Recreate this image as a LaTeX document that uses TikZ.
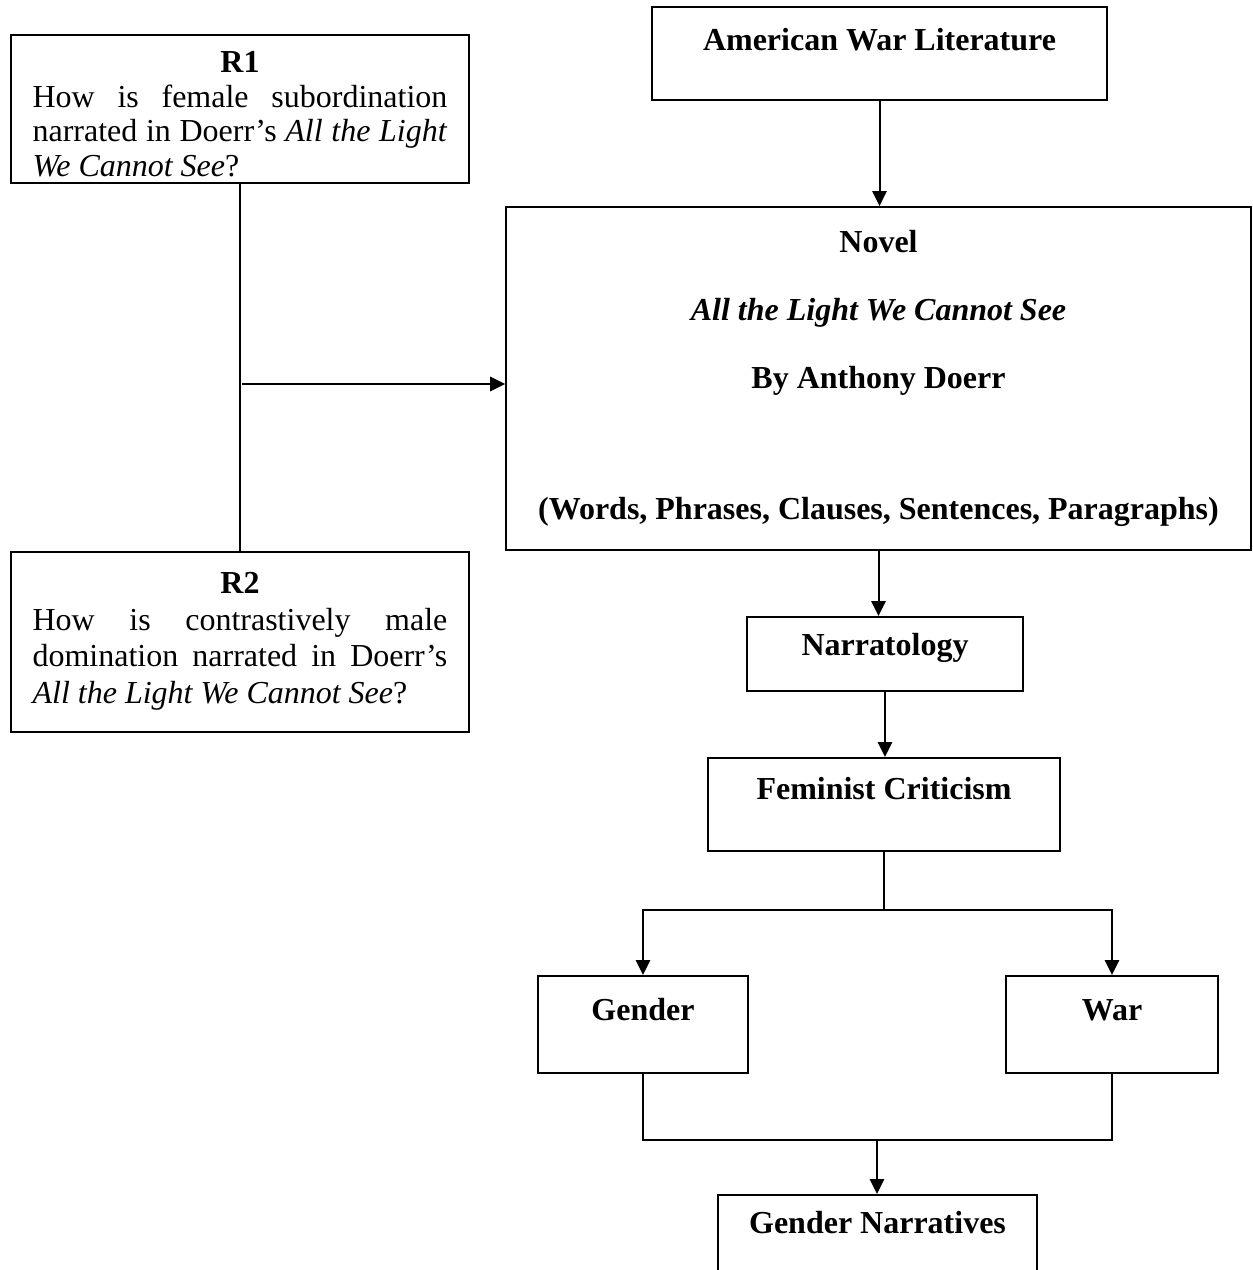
\documentclass[tikz,border=0pt]{standalone}
\usepackage{fontspec}
\setmainfont{Liberation Serif}
\usetikzlibrary{arrows.meta}

\tikzset{
  qbox/.style={draw, line width=0.8pt, inner sep=0pt, font=\fontsize{12.75}{14.5}\selectfont},
  box/.style={qbox, font=\fontsize{12.75}{14.5}\selectfont\bfseries},
  link/.style={line width=0.8pt},
  flow/.style={link, -{Triangle[length=2.1mm,width=2mm]}}
}

\begin{document}
\begin{tikzpicture}[x=0.014cm, y=-0.014cm]
  \useasboundingbox (0,0) rectangle (1253,1270);

  % research questions
  \node[qbox, font=\fontsize{12.75}{13.7}\selectfont, minimum width=6.412cm,
        text height=0.532cm, text depth=1.54cm, anchor=north] (r1) at (240,34)
    {\parbox[t]{5.81cm}{{\centering\textbf{R1}\par}How is female subordination\linebreak
     narrated in Doerr's \textit{All the Light}\linebreak \textit{We Cannot See}?}};
  \node[qbox, minimum width=6.412cm, text height=0.588cm, text depth=1.932cm,
        anchor=north] (r2) at (240,551)
    {\parbox[t]{5.81cm}{{\centering\textbf{R2}\par}How is contrastively male\linebreak
     domination narrated in Doerr's\linebreak \textit{All the Light We Cannot See}?}};

  % main column
  \node[box, minimum width=6.37cm, text height=0.616cm, text depth=0.686cm,
        anchor=north] (awl) at (879.5,6) {American War Literature};
  \node[box, align=center, minimum width=10.43cm, minimum height=4.802cm] (novel)
    at (878.5,378.5)
    {Novel\\[0.44cm]
     \textit{All the Light We Cannot See}\\[0.44cm]
     By Anthony Doerr\\[1.32cm]
     (Words, Phrases, Clauses, Sentences, Paragraphs)};
  \node[box, minimum width=3.864cm, text height=0.546cm, text depth=0.49cm,
        anchor=north] (narr) at (885,616) {Narratology};
  \node[box, minimum width=4.928cm, text height=0.588cm, text depth=0.714cm,
        anchor=north] (fc) at (884,757) {Feminist Criticism};
  \node[box, minimum width=2.94cm, text height=0.63cm, text depth=0.728cm,
        anchor=north] (gender) at (643,975) {Gender};
  \node[box, minimum width=2.968cm, text height=0.63cm, text depth=0.728cm,
        anchor=north] (war) at (1112,975) {War};
  \node[box, minimum width=4.466cm, text height=0.546cm, text depth=0.77cm,
        anchor=north] (gn) at (877.5,1194) {Gender Narratives};

  % connectors
  \coordinate (jn) at (242,384);
  \coordinate (split) at (884,910);
  \coordinate (join) at (877,1140);

  \draw[link] (r1.south) -- (r2.north);
  \draw[flow] (jn) -- (jn -| novel.west);
  \draw[flow] (awl.south) -- (awl.south |- novel.north);
  \draw[flow] (novel.south) -- (novel.south |- narr.north);
  \draw[flow] (narr.south) -- (narr.south |- fc.north);
  \draw[line width=0.5pt] (fc.south) -- (split);
  \draw[flow] (split) -| (gender.north);
  \draw[flow] (split) -| (war.north);
  \draw[link] (gender.south) |- (join) -| (war.south);
  \draw[flow] (join) -- (join |- gn.north);
\end{tikzpicture}
\end{document}
